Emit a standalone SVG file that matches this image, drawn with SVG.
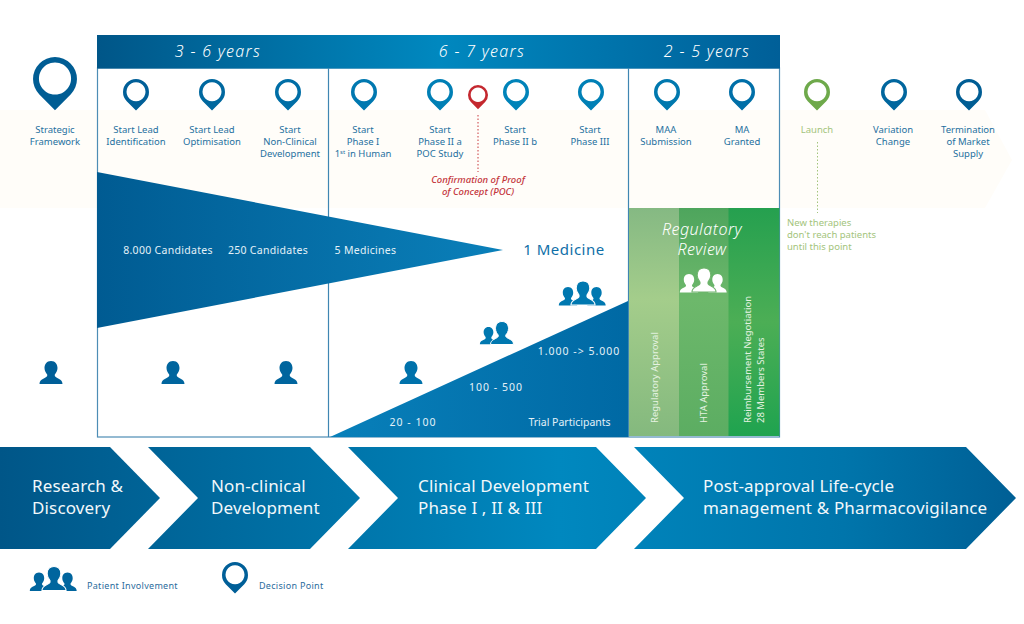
<svg xmlns="http://www.w3.org/2000/svg" xmlns:xlink="http://www.w3.org/1999/xlink" width="1024" height="624" viewBox="0 0 1024 624">
<style>
text{font-family:"Noto Sans","Liberation Sans",sans-serif}
.l{font-size:9.500px;fill:#25709f;text-anchor:middle}
.m{font-size:10.500px;fill:#e4f1f8;letter-spacing:.3px;text-anchor:middle}
.n{letter-spacing:1px}
.t{letter-spacing:0}
.h{font-size:16px;fill:#fff;font-style:italic;font-weight:300;text-anchor:middle;letter-spacing:1.300px}
.r{font-size:16px;fill:#fff;font-style:italic;font-weight:300;text-anchor:middle;letter-spacing:.5px}
.c{font-size:17px;fill:#f2f8fb;letter-spacing:.15px}
.v{font-size:9.500px;fill:#e6f3e2}
.g{font-size:9.500px;fill:#a3c47c}
.leg{font-size:9px;fill:#2a6c9c;letter-spacing:.3px}
.red{font-size:9.500px;font-style:italic;font-weight:500;fill:#c4363c;text-anchor:middle}
</style>
<defs>
<linearGradient id="band" gradientUnits="userSpaceOnUse" x1="0" y1="0" x2="1016" y2="0"><stop offset="0" stop-color="#005688"/><stop offset=".55" stop-color="#0088bf"/><stop offset=".83" stop-color="#0075ab"/><stop offset="1" stop-color="#005f95"/></linearGradient>
<linearGradient id="head" gradientUnits="userSpaceOnUse" x1="97" y1="0" x2="780" y2="0"><stop offset="0" stop-color="#005688"/><stop offset=".5" stop-color="#0088bf"/><stop offset="1" stop-color="#005f98"/></linearGradient>
<linearGradient id="fun" gradientUnits="userSpaceOnUse" x1="97" y1="0" x2="503" y2="0"><stop offset="0" stop-color="#005b92"/><stop offset="1" stop-color="#0a80ba"/></linearGradient>
<linearGradient id="tri" gradientUnits="userSpaceOnUse" x1="330" y1="0" x2="628" y2="0"><stop offset="0" stop-color="#0880ba"/><stop offset="1" stop-color="#0069a4"/></linearGradient>
<linearGradient id="g1" x1="0" y1="0" x2="0" y2="1"><stop offset="0" stop-color="#85b983"/><stop offset=".4" stop-color="#a4cd8b"/><stop offset="1" stop-color="#84b97e"/></linearGradient>
<linearGradient id="g2" x1="0" y1="0" x2="0" y2="1"><stop offset="0" stop-color="#4ea55d"/><stop offset=".4" stop-color="#6db86b"/><stop offset="1" stop-color="#5cad62"/></linearGradient>
<linearGradient id="g3" x1="0" y1="0" x2="0" y2="1"><stop offset="0" stop-color="#25a04f"/><stop offset=".5" stop-color="#4cae55"/><stop offset="1" stop-color="#1fa34f"/></linearGradient>
<path id="pin" fill-rule="evenodd" d="M-9.250,9.140 A13,13 0 1 1 9.250,9.140 L0,18.500Z M0,-9.800 A9.500,9.500 0 1 0 0.010,-9.800Z"/>
<path id="person" d="M0,-11.500 C4.500,-11.500 6.500,-8 6.500,-4.500 C6.500,-1.500 5,.5 3.800,2 V3.500 C5,6 11.500,6 11.500,11.500 H-11.500 C-11.500,6 -5,6 -3.800,3.500 V2 C-5,.5 -6.500,-1.500 -6.500,-4.500 C-6.500,-8 -4.500,-11.500 0,-11.500Z"/>
<g id="three"><use xlink:href="#person" transform="translate(-15,3.300) scale(.8)" stroke="none"/><use xlink:href="#person" transform="translate(13.500,3.300) scale(.8)" stroke="none"/><use xlink:href="#person" transform="scale(1.050)" stroke-width="1"/></g>
</defs>
<rect width="1024" height="624" fill="#fff"/>
<path d="M0,110 H985 L1012,160 L985,208 H0Z" fill="#fffdf9"/>
<g id="panel">
<rect x="97.500" y="68" width="682" height="369" fill="none" stroke="#4d8db5" stroke-width="1.200"/>
<rect x="97" y="35" width="683" height="33.500" fill="url(#head)"/>
<path d="M328.500,68V437M628.500,68V437" fill="none" stroke="#3f86b2" stroke-width="1.200"/>
<text class="h" x="218" y="57">3 - 6 years</text><text class="h" x="482" y="57">6 - 7 years</text><text class="h" x="707" y="57">2 - 5 years</text>
</g>
<g id="funnel"><path d="M97,172L503,250L97,328Z" fill="url(#fun)"/>
<text class="m" x="168" y="254">8.000 Candidates</text><text class="m" x="268" y="254">250 Candidates</text><text class="m" x="365.500" y="254">5 Medicines</text>
<text x="564" y="255" font-size="15" fill="#0f6fa8" text-anchor="middle" letter-spacing=".5">1 Medicine</text></g>
<g id="trial"><path d="M330,437L628,301V437Z" fill="url(#tri)"/>
<text class="m n" x="413" y="426">20 - 100</text><text class="m n" x="496" y="391">100 - 500</text><text class="m n" x="579" y="355">1.000 -&gt; 5.000</text><text class="m t" x="569.500" y="426">Trial Participants</text></g>
<g id="regulatory">
<rect x="629" y="208" width="50.500" height="228" fill="url(#g1)"/><rect x="679" y="208" width="50" height="228" fill="url(#g2)"/><rect x="728.500" y="208" width="51" height="228" fill="url(#g3)"/>
<text class="r" x="702" y="235">Regulatory</text><text class="r" x="702" y="255">Review</text>
<use xlink:href="#three" transform="translate(704,280)" fill="#fff" stroke="#6fb36c"/>
<text class="v" transform="translate(658,423) rotate(-90)">Regulatory Approval</text><text class="v" transform="translate(707,423) rotate(-90)">HTA Approval</text><text class="v" transform="translate(751,423) rotate(-90)">Reimbursement Negotiation</text><text class="v" transform="translate(763.500,423) rotate(-90)">28 Members States</text>
</g>
<g id="connectors" fill="none" stroke-dasharray="1.500 2">
<path d="M478,115V172" stroke="#c8393f"/><path d="M817.500,142V213" stroke="#a3c47c"/>
</g>
<g id="n1"><use xlink:href="#pin" transform="translate(55,79) scale(1.690)" fill="#005d94"/><text class="l" x="55" y="132.500">Strategic</text><text class="l" x="55" y="144.500">Framework</text></g>
<g id="n2"><use xlink:href="#pin" x="136" y="92" fill="#005f98"/><text class="l" x="136" y="132.500">Start Lead</text><text class="l" x="136" y="144.500">Identification</text></g>
<g id="n3"><use xlink:href="#pin" x="212" y="92" fill="#00689f"/><text class="l" x="212" y="132.500">Start Lead</text><text class="l" x="212" y="144.500">Optimisation</text></g>
<g id="n4"><use xlink:href="#pin" x="288" y="92" fill="#006ea6"/><text class="l" x="290" y="132.500">Start</text><text class="l" x="290" y="144.500">Non-Clinical</text><text class="l" x="290" y="156.500">Development</text></g>
<g id="n5"><use xlink:href="#pin" x="364" y="92" fill="#0078b0"/><text class="l" x="363" y="132.500">Start</text><text class="l" x="363" y="144.500">Phase I</text><text class="l" x="363" y="156.500">1<tspan font-size="6" dy="-3">st</tspan><tspan dy="3"> in Human</tspan></text></g>
<g id="n6"><use xlink:href="#pin" x="440" y="92" fill="#007fb5"/><text class="l" x="440" y="132.500">Start</text><text class="l" x="440" y="144.500">Phase II a</text><text class="l" x="440" y="156.500">POC Study</text></g>
<g id="n7"><use xlink:href="#pin" transform="translate(478,95) scale(.77)" fill="#c4282f"/><text class="red" x="478" y="183">Confirmation of Proof</text><text class="red" x="478" y="195">of Concept (POC)</text></g>
<g id="n8"><use xlink:href="#pin" x="516" y="92" fill="#0083b9"/><text class="l" x="515" y="132.500">Start</text><text class="l" x="515" y="144.500">Phase II b</text></g>
<g id="n9"><use xlink:href="#pin" x="591" y="92" fill="#0080b6"/><text class="l" x="590" y="132.500">Start</text><text class="l" x="590" y="144.500">Phase III</text></g>
<g id="n10"><use xlink:href="#pin" x="667" y="92" fill="#0078ae"/><text class="l" x="666" y="132.500">MAA</text><text class="l" x="666" y="144.500">Submission</text></g>
<g id="n11"><use xlink:href="#pin" x="742" y="92" fill="#006fa8"/><text class="l" x="742" y="132.500">MA</text><text class="l" x="742" y="144.500">Granted</text></g>
<g id="n12"><use xlink:href="#pin" x="817" y="92" fill="#6ea94b"/><text class="g" x="817" y="132.500" text-anchor="middle">Launch</text><text class="g" x="787" y="225.500">New therapies</text><text class="g" x="787" y="237.500">don't reach patients</text><text class="g" x="787" y="249.500">until this point</text></g>
<g id="n13"><use xlink:href="#pin" x="894" y="92" fill="#00669e"/><text class="l" x="893" y="132.500">Variation</text><text class="l" x="893" y="144.500">Change</text></g>
<g id="n14"><use xlink:href="#pin" x="969" y="92" fill="#005d94"/><text class="l" x="968" y="132.500">Termination</text><text class="l" x="968" y="144.500">of Market</text><text class="l" x="968" y="156.500">Supply</text></g>
<g id="people">
<use xlink:href="#person" x="51" y="372.500" fill="#005f98"/><use xlink:href="#person" x="173" y="372.500" fill="#00659e"/><use xlink:href="#person" x="286" y="372.500" fill="#00659e"/><use xlink:href="#person" x="411" y="372.500" fill="#0072ab"/>
<use xlink:href="#person" transform="translate(488.500,335.600) scale(.75)" fill="#0078b0"/><use xlink:href="#person" transform="translate(502,333)" fill="#0078b0" stroke="#fff"/>
<use xlink:href="#three" transform="translate(583,293)" fill="#0078b0" stroke="#fff"/>
</g>
<g id="phases">
<path d="M0,447H110L160,498L110,549H0Z" fill="url(#band)"/><path d="M148,447H310L360,498L310,549H148L198,498Z" fill="url(#band)"/><path d="M348,447H596L646,498L596,549H348L398,498Z" fill="url(#band)"/><path d="M634,447H966L1016,498L966,549H634L684,498Z" fill="url(#band)"/>
<text class="c" x="32" y="492">Research &amp;</text><text class="c" x="32" y="514">Discovery</text>
<text class="c" x="211" y="492">Non-clinical</text><text class="c" x="211" y="514">Development</text>
<text class="c" x="418" y="492">Clinical Development</text><text class="c" x="418" y="514">Phase I , II &amp; III</text>
<text class="c" x="703" y="492">Post-approval Life-cycle</text><text class="c" x="703" y="514">management &amp; Pharmacovigilance</text>
</g>
<g id="legend"><use xlink:href="#three" transform="translate(54,578.500)" fill="#00659e" stroke="#fff"/><text class="leg" x="87" y="588.500">Patient Involvement</text>
<use xlink:href="#pin" x="235" y="575" fill="#005f98"/><text class="leg" x="259" y="588.500">Decision Point</text></g>
</svg>
